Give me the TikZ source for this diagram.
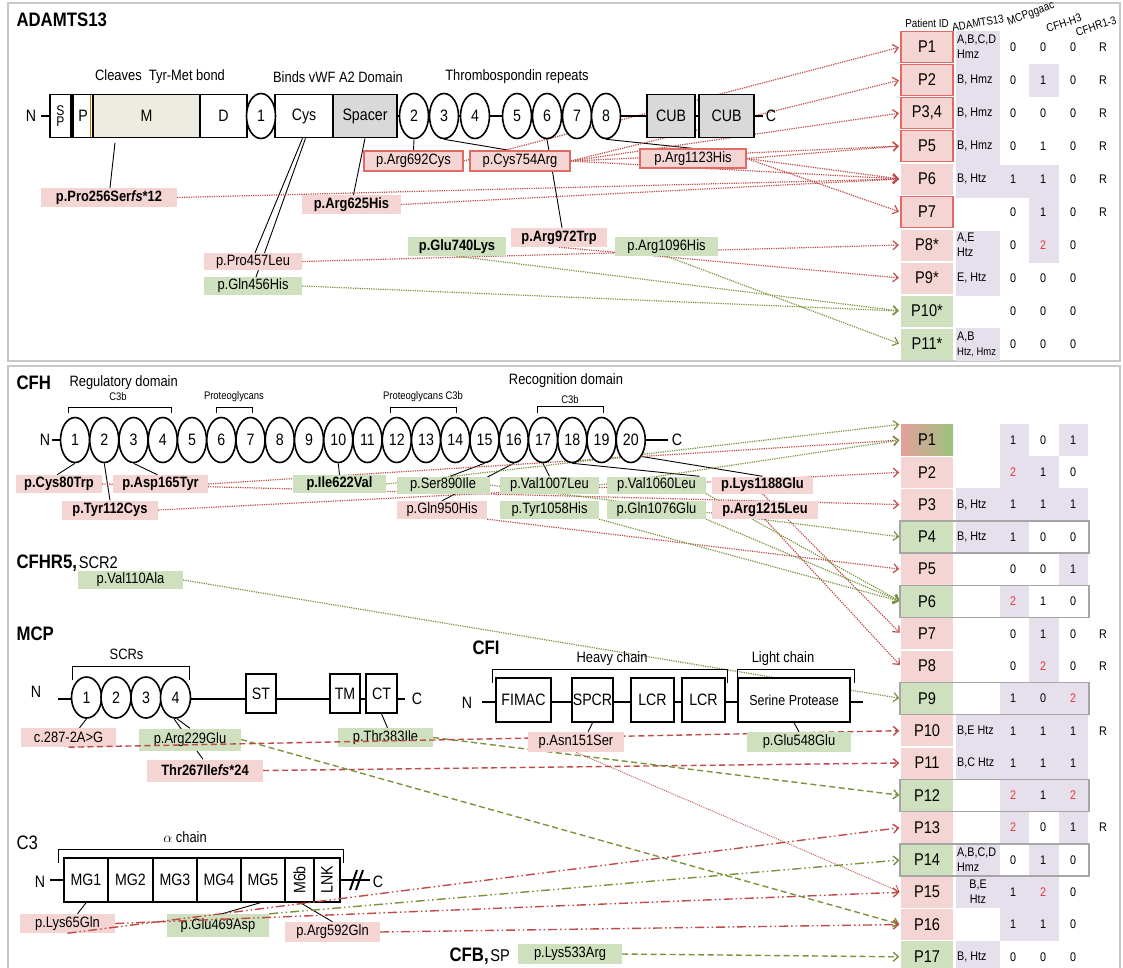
\documentclass[tikz,border=0pt]{standalone}
\usepackage{fontspec}
\setmainfont[FakeStretch=0.86]{Liberation Sans}
\usetikzlibrary{arrows.meta,shapes.geometric}
\pgfdeclarelayer{bg}
\pgfsetlayers{bg,main}
\definecolor{pinkfill}{HTML}{F4D5D3}
\definecolor{greenfill}{HTML}{CFE0BE}
\definecolor{lav}{HTML}{E6E0EC}
\definecolor{beige}{HTML}{EEECE0}
\definecolor{domgray}{HTML}{D9D9D9}
\definecolor{arrred}{HTML}{BE4B48}
\definecolor{arrgreen}{HTML}{77933C}
\definecolor{framered}{HTML}{E06A64}
\definecolor{panelgray}{HTML}{C8C8C8}
\definecolor{rowgray}{HTML}{A6A6A6}
\definecolor{numred}{HTML}{E8383A}
\definecolor{mixred}{HTML}{E3A09B}
\definecolor{mixgreen}{HTML}{9DC27E}
\newcommand{\titlefont}{\fontsize{19.5}{20}\selectfont\bfseries}
\newcommand{\subfont}{\fontsize{17}{18}\selectfont}
\newcommand{\domfont}{\fontsize{16.5}{17}\selectfont}
\newcommand{\labfont}{\fontsize{15}{16}\selectfont}
\newcommand{\smallfont}{\fontsize{11}{12}\selectfont}
\newcommand{\tabfont}{\fontsize{12.5}{15}\selectfont}
\newcommand{\headfont}{\fontsize{11.5}{12}\selectfont}
\newcommand{\patfont}{\fontsize{17}{18}\selectfont}
\newcommand{\two}{\textcolor{numred}{2}}
\newcommand{\fsit}{\textit{fs}}
\tikzset{
  >={Straight Barb[length=5pt,width=9pt]},
  panel/.style={panelgray, line width=2.5pt},
  backbone/.style={line width=2.6pt},
  dombox/.style={draw, fill=white, line width=1.6pt, minimum height=43pt, inner sep=0pt, font=\domfont},
  scrshape/.style={ellipse, draw, fill=white, line width=1.6pt, minimum width=29pt, minimum height=45pt, inner sep=0pt, font=\domfont},
  mutbox/.style={minimum height=19pt, inner sep=0pt, font=\labfont},
  pathog/.style={mutbox, fill=pinkfill},
  benign/.style={mutbox, fill=greenfill},
  outlined/.style={draw=framered, line width=1.2pt},
  tie/.style={line width=0.9pt},
  bracket/.style={line width=0.9pt},
  redpath/.style={->, arrred, line width=1.2pt, dash pattern=on 1.2pt off 1.1pt, shorten >=1.5pt},
  greenpath/.style={redpath, arrgreen},
  reddash/.style={->, arrred, line width=1.4pt, dash pattern=on 6pt off 3.5pt, shorten >=1.5pt},
  greendash/.style={reddash, arrgreen},
  reddots/.style={->, arrred, line width=1.4pt, dash pattern=on 9pt off 3pt on 1.5pt off 3pt on 1.5pt off 3pt, shorten >=1.5pt},
  greendots/.style={reddots, arrgreen},
  redthin/.style={->, arrred, line width=0.8pt, dash pattern=on 1pt off 1pt, shorten >=1.5pt},
  patient/.style={minimum width=52pt, minimum height=31pt, inner sep=0pt, font=\patfont},
  tabtext/.style={font=\tabfont, inner sep=0pt},
  headtext/.style={font=\headfont, inner sep=0pt},
  rowframe/.style={rowgray, line width=1.5pt},
}

\begin{document}
\begin{tikzpicture}[x=1pt,y=-1pt]
  \useasboundingbox (0,0) rectangle (1123,967);
  % panels
  \draw[panel] (8,3) rectangle (1120,361);
  \draw[panel] (8,975) -- (8,366) -- (1120,366) -- (1120,975);

  % patient table, upper panel
  \node[headtext] (hdpid) at (927,23) {Patient ID};
  \node[headtext, rotate=10] (hdadam) at (978,23) {ADAMTS13};
  \node[headtext, rotate=20] (hdmcp) at (1031,14) {MCPggaac};
  \node[headtext, rotate=18] (hdcfh) at (1064,23) {CFH-H3};
  \node[headtext, rotate=18] (hdcfhr) at (1096,26) {CFHR1-3};
  \fill[lav] (956,31) rectangle (1000,198);
  \fill[lav] (956,231) rectangle (1000,296);
  \fill[lav] (956,328) rectangle (1000,361);
  \fill[lav] (1029,64) rectangle (1059,97);
  \fill[lav] (1000,165) rectangle (1059,198);
  \fill[lav] (1029,198) rectangle (1059,263);
  \foreach \k/\lab/\fc/\bd in {1/P1/pinkfill/framered, 2/P2/pinkfill/framered, 3/{P3,4}/pinkfill/framered, 4/P5/pinkfill/framered, 5/P6/pinkfill/none, 6/P7/pinkfill/framered, 7/P8*/pinkfill/none, 8/P9*/pinkfill/none, 9/P10*/greenfill/none, 10/P11*/greenfill/none}
    \node[patient, fill=\fc, draw=\bd, line width=1.3pt] (t\k) at (927,{47+33*(\k-1)}) {\lab};
  \foreach \k/\adam/\mv/\hv/\cv/\rv in {1/{A,B,C,D\\Hmz}/0/0/0/R, 2/{B, Hmz}/0/1/0/R, 3/{B, Hmz}/0/0/0/R, 4/{B, Hmz}/0/1/0/R, 5/{B, Htz}/1/1/0/R, 6/{}/0/1/0/R, 7/{A,E\\Htz}/0/\two/0/{}, 8/{E, Htz}/0/0/0/{}, 9/{}/0/0/0/{}, 10/{A,B\\{\fontsize{11}{12}\selectfont Htz, Hmz}}/0/0/0/{}}{
    \node[tabtext, anchor=west, align=left] (ta\k) at (957,{47+33*(\k-1)}) {\adam};
    \node[tabtext] (tm\k) at (1013,{47+33*(\k-1)}) {\mv};
    \node[tabtext] (th\k) at (1043,{47+33*(\k-1)}) {\hv};
    \node[tabtext] (tc\k) at (1073,{47+33*(\k-1)}) {\cv};
    \node[tabtext] (tr\k) at (1103,{47+33*(\k-1)}) {\rv};
  }

  % patient table, lower panel
  \foreach \k/\xa/\xb in {1/1000/1029,1/1059/1088,2/1000/1059,3/956/1088,4/956/1029,5/1059/1088,6/1000/1029,7/1029/1059,8/1029/1059,9/1000/1088,10/956/1088,11/956/1088,12/1000/1088,13/1000/1029,13/1059/1088,14/956/1000,14/1029/1059,15/956/1059,16/1000/1059,17/956/1000}
    \fill[lav] (\xa,{440+32.3*(\k-1)-16.2}) rectangle (\xb,{440+32.3*(\k-1)+16.2});
  \node[patient, left color=mixred, right color=mixgreen] (p1) at (927,440) {P1};
  \foreach \k/\fc in {2/pinkfill,3/pinkfill,4/greenfill,5/pinkfill,6/greenfill,7/pinkfill,8/pinkfill,9/greenfill,10/pinkfill,11/pinkfill,12/greenfill,13/pinkfill,14/greenfill,15/pinkfill,16/pinkfill,17/greenfill}
    \node[patient, fill=\fc] (p\k) at (927,{440+32.3*(\k-1)}) {P\k};
  \foreach \k in {4,6,9,12,14}
    \draw[rowframe] (900,{440+32.3*(\k-1)-16}) rectangle (1089,{440+32.3*(\k-1)+16});
  \foreach \k/\adam/\mv/\hv/\cv/\rv in {1/{}/1/0/1/{}, 2/{}/\two/1/0/{}, 3/{B, Htz}/1/1/1/{}, 4/{B, Htz}/1/0/0/{}, 5/{}/0/0/1/{}, 6/{}/\two/1/0/{}, 7/{}/0/1/0/R, 8/{}/0/\two/0/R, 9/{}/1/0/\two/{}, 10/{B,E Htz}/1/1/1/R, 11/{B,C Htz}/1/1/1/{}, 12/{}/\two/1/\two/{}, 13/{}/\two/0/1/R, 14/{A,B,C,D\\Hmz}/0/1/0/{}, 15/{}/1/\two/0/{}, 16/{}/1/1/0/{}, 17/{B, Htz}/0/0/0/{}}{
    \node[tabtext, anchor=west, align=left] (pa\k) at (957,{440+32.3*(\k-1)}) {\adam};
    \node[tabtext] (pm\k) at (1013,{440+32.3*(\k-1)}) {\mv};
    \node[tabtext] (ph\k) at (1043,{440+32.3*(\k-1)}) {\hv};
    \node[tabtext] (pc\k) at (1073,{440+32.3*(\k-1)}) {\cv};
    \node[tabtext] (pr\k) at (1103,{440+32.3*(\k-1)}) {\rv};
  }
  \node[tabtext, align=center] (pa15b) at (978,892) {B,E\\Htz};

  % ADAMTS13 domains
  \node[anchor=west, font=\titlefont] (adtitle) at (13,20) {ADAMTS13};
  \draw[backbone] (41,116) -- (763,116);
  \node[font=\domfont] (adN) at (31,116) {N};
  \node[font=\domfont] (adC) at (771,116) {C};
  \node[dombox, minimum width=21pt, align=center, font=\fontsize{14}{11}\selectfont] (sigp) at (60.5,116) {S\\P};
  \node[dombox, minimum width=20pt] (prop) at (83,116) {P};
  \node[dombox, minimum width=107pt, fill=beige] (metal) at (146.5,116) {M};
  \node[dombox, minimum width=47pt] (disint) at (223.5,116) {D};
  \node[dombox, minimum width=58pt] (cys) at (304,116) {Cys};
  \node[dombox, minimum width=64pt, fill=domgray] (spacer) at (365,116) {Spacer};
  \foreach \i/\x in {1/261,2/414,3/444,4/475,5/517,6/547,7/577,8/606}
    \node[scrshape] (tsp\i) at (\x,116) {\i};
  \node[dombox, minimum width=48pt, fill=domgray] (cub1) at (671,116) {CUB};
  \node[dombox, minimum width=55pt, fill=domgray] (cub2) at (726.5,116) {CUB};
  \draw[orange!85!black, line width=1.4pt] ([xshift=-1.6pt,yshift=-1pt]metal.north west) -- ([xshift=-1.6pt,yshift=1pt]metal.south west);
  \node[font=\labfont] (cleave) at (160,77) {Cleaves\ \ Tyr-Met bond};
  \node[font=\labfont] (binds) at (338,77) {Binds vWF A2 Domain};
  \node[font=\labfont] (thromb) at (517,77) {Thrombospondin repeats};
  % ADAMTS13 mutations
  \node[pathog, outlined, minimum width=99pt, minimum height=20pt] (a692) at (413.5,161) {p.Arg692Cys};
  \node[pathog, outlined, minimum width=100pt, minimum height=20pt] (a754) at (520,161) {p.Cys754Arg};
  \node[pathog, outlined, minimum width=106pt] (a1123) at (693,158.5) {p.Arg1123His};
  \node[pathog, minimum width=136pt, font=\labfont\bfseries] (a256) at (109,197.5) {p.Pro256Ser\fsit*12};
  \node[pathog, minimum width=99pt, font=\labfont\bfseries] (a625) at (351.5,204.5) {p.Arg625His};
  \node[pathog, minimum width=96pt, font=\labfont\bfseries] (a972) at (559,237.5) {p.Arg972Trp};
  \node[benign, minimum width=98pt, font=\labfont\bfseries] (a740) at (457,246.5) {p.Glu740Lys};
  \node[benign, minimum width=103pt] (a1096) at (666.5,246.5) {p.Arg1096His};
  \node[pathog, minimum width=98pt, minimum height=17pt] (a457) at (253,261.5) {p.Pro457Leu};
  \node[benign, minimum width=98pt, minimum height=18pt] (a456) at (253,286) {p.Gln456His};
  \begin{pgfonlayer}{bg}
    \draw[tie] ([xshift=-31.5pt,yshift=-4.5pt]metal.south) -- ([xshift=1pt]a256.north);
    \draw[tie] (spacer.south) -- ([xshift=2pt]a625.north);
    \draw[tie] ([xshift=-1.5pt]cys.south) -- ([xshift=2pt]a457.north);
    \draw[tie] ([xshift=1.5pt]cys.south) -- ([xshift=3pt]a456.north);
    \draw[tie] (tsp2.south) -- (a692.north);
    \draw[tie] (tsp3.south) -- ([xshift=-10pt]a754.north);
    \draw[tie] (tsp6.south) -- ([xshift=3pt]a972.north);
    \draw[tie] (tsp8.south) -- (a1123.north);
    % to patients
    \draw[redpath] (a692.east) -- (t1.west);
    \foreach \t in {t2,t3,t4,t5} \draw[redpath] (a754.east) -- (\t.west);
    \foreach \t in {t4,t5,t6} \draw[redpath] (a1123.east) -- (\t.west);
    \draw[redpath] (a256.east) -- (t5.west);
    \draw[redpath] (a625.east) -- (t5.west);
    \draw[redpath] (a457.east) -- (t7.west);
    \draw[redpath] (a972.south) -- (t8.west);
    \draw[greenpath] (a740.south) -- (t9.west);
    \draw[greenpath] (a456.east) -- (t9.west);
    \draw[greenpath] (a1096.south) -- (t10.west);
  \end{pgfonlayer}

  % CFH
  \node[anchor=west, font=\titlefont] (cfhtitle) at (13,383) {CFH};
  \node[anchor=west, font=\labfont] (regdom) at (66,383) {Regulatory domain};
  \node[font=\labfont] (recdom) at (566,381) {Recognition domain};
  \node[font=\smallfont] (c3ba) at (118,397) {C3b};
  \node[font=\smallfont] (protg) at (234,397) {Proteoglycans};
  \node[font=\smallfont] (protgc) at (423,397) {Proteoglycans C3b};
  \node[font=\smallfont] (c3bb) at (570,400) {C3b};
  \draw[bracket] (68,413) -- (68,407) -- (171,407) -- (171,413);
  \draw[bracket] (216,413) -- (216,407) -- (252,407) -- (252,413);
  \draw[bracket] (390,413) -- (390,407) -- (456,407) -- (456,413);
  \draw[bracket] (537,413) -- (537,406) -- (603,406) -- (603,413);
  \draw[backbone] (52,440) -- (668,440);
  \node[font=\domfont] (hN) at (45,440) {N};
  \node[font=\domfont] (hC) at (677,440) {C};
  \foreach \i in {1,...,20}
    \node[scrshape] (scr\i) at ({75+29.25*(\i-1)},440) {\i};
  \node[pathog, minimum width=86pt, minimum height=18pt, font=\labfont\bfseries] (c80) at (59,484) {p.Cys80Trp};
  \node[pathog, minimum width=96pt, font=\labfont\bfseries] (c112) at (110,510) {p.Tyr112Cys};
  \node[pathog, minimum width=95pt, minimum height=18pt, font=\labfont\bfseries] (c165) at (160.5,484) {p.Asp165Tyr};
  \node[benign, minimum width=93pt, minimum height=18pt, font=\labfont\bfseries] (c622) at (339.5,484) {p.Ile622Val};
  \node[benign, minimum width=93pt, minimum height=17pt] (c890) at (443,485) {p.Ser890Ile};
  \node[pathog, minimum width=90pt, minimum height=18pt] (c950) at (442,510) {p.Gln950His};
  \node[benign, minimum width=99pt, minimum height=17pt] (c1007) at (549.5,485) {p.Val1007Leu};
  \node[benign, minimum width=99pt, minimum height=18pt] (c1058) at (549.5,510) {p.Tyr1058His};
  \node[benign, minimum width=99pt, minimum height=17pt] (c1060) at (656.5,485) {p.Val1060Leu};
  \node[benign, minimum width=99pt, minimum height=18pt] (c1076) at (656.5,510) {p.Gln1076Glu};
  \node[pathog, minimum width=101pt, minimum height=17pt, font=\labfont\bfseries] (c1188) at (762.5,485) {p.Lys1188Glu};
  \node[pathog, minimum width=106pt, minimum height=18pt, font=\labfont\bfseries] (c1215) at (765,510) {p.Arg1215Leu};
  % CFHR5
  \node[anchor=west] (cfhr5) at (13,563) {{\titlefont CFHR5,}\,{\subfont SCR2}};
  \node[benign, minimum width=105pt, minimum height=18pt] (v110) at (130.5,580) {p.Val110Ala};
  \begin{pgfonlayer}{bg}
    \draw[tie] (scr1.south) -- ([xshift=-2pt]c80.north);
    \draw[tie] (scr2.south) -- (c112.north);
    \draw[tie] (scr3.south) -- ([xshift=-3pt]c165.north);
    \draw[tie] (scr10.south) -- (c622.north);
    \draw[tie] (scr15.south) -- ([xshift=7pt]c890.north);
    \draw[tie] (scr16.south) -- (c950.north);
    \draw[tie] (scr17.south) -- (c1007.north);
    \draw[tie] (scr18.south) -- ([xshift=43pt]c1060.north);
    \draw[tie] (scr20.south east) -- (c1188.north);
    % to patients
    \draw[redpath] (c165.east) -- (p1.west);
    \draw[redpath] (c112.east) -- (p2.west);
    \draw[redpath] (c80.east) -- (p3.west);
    \draw[redpath] (c950.south east) -- (p5.west);
    \draw[redpath] (c1188.south) -- (p7.west);
    \draw[redpath] (c1215.south) -- (p8.west);
    \draw[greenpath] (c622.east) -- (p1.north west);
    \draw[greenpath] (c1007.east) -- (p1.west);
    \draw[greenpath] (c890.east) -- (p4.west);
    \foreach \m in {c1058,c1060,c1076} \draw[greenpath] (\m.south east) -- (p6.west);
    \draw[greenpath] (v110.east) -- (p9.west);
  \end{pgfonlayer}

  % MCP
  \node[anchor=west, font=\titlefont] (mcptitle) at (13,634) {MCP};
  \node[font=\labfont] (scrs) at (126.5,654) {SCRs};
  \draw[bracket] (72,680) -- (72,666) -- (189,666) -- (189,680);
  \draw[backbone] (58,699) -- (405,699);
  \node[font=\domfont] (mN) at (36,692) {N};
  \node[font=\domfont] (mC) at (417,699) {C};
  \foreach \i/\x in {1/86.5,2/116,3/146,4/175.5}
    \node[scrshape, minimum width=30pt, minimum height=41pt] (mscr\i) at (\x,697.5) {\i};
  \node[dombox, minimum width=30pt, minimum height=39pt] (mst) at (261,693.5) {ST};
  \node[dombox, minimum width=30pt, minimum height=39pt] (mtm) at (345,693.5) {TM};
  \node[dombox, minimum width=31pt, minimum height=39pt] (mct) at (381.5,693.5) {CT};
  \node[pathog, minimum width=95pt] (m287) at (68.5,737.5) {c.287-2A>G};
  \node[benign, minimum width=102pt, minimum height=22pt] (m229) at (190,739.5) {p.Arg229Glu};
  \node[pathog, minimum width=116pt, minimum height=22pt, font=\labfont\bfseries] (m267) at (205,770.5) {Thr267Ile\fsit*24};
  \node[benign, minimum width=95pt] (m383) at (385.5,737.5) {p.Thr383Ile};
  \begin{pgfonlayer}{bg}
    \draw[tie] (mscr1.south) -- ([xshift=11pt]m287.north);
    \draw[tie] ([xshift=1.5pt]mscr4.south) -- (m229.north);
    \draw[tie] ([xshift=-1.5pt]mscr4.south) -- ([xshift=-2pt]m267.north);
    \draw[tie] (mct.south) -- ([xshift=2pt]m383.north);
    \draw[reddash] (m267.east) -- (p11.west);
    \draw[greendash] (m229.east) -- (p16.west);
    \draw[greendash] (m383.east) -- (p12.west);
  \end{pgfonlayer}
  \draw[reddash] (m287.south) -- (p10.west);

  % CFI
  \node[anchor=west, font=\titlefont] (cfititle) at (469,648) {CFI};
  \node[font=\labfont] (heavy) at (612,659) {Heavy chain};
  \node[font=\labfont] (light) at (783,659) {Light chain};
  \draw[bracket] (492,683) -- (492,669) -- (727,669) -- (727,683);
  \draw[bracket] (737,683) -- (737,669) -- (854,669) -- (854,683);
  \draw[backbone] (482,702) -- (863,702);
  \node[font=\domfont] (fN) at (467,703) {N};
  \node[dombox, minimum width=55pt, minimum height=44pt] (fimac) at (523.5,700) {FIMAC};
  \node[dombox, minimum width=41pt, minimum height=44pt] (spcr) at (592.5,700) {SPCR};
  \node[dombox, minimum width=43pt, minimum height=44pt] (lcr1) at (652.5,700) {LCR};
  \node[dombox, minimum width=43pt, minimum height=44pt] (lcr2) at (703.5,700) {LCR};
  \node[dombox, minimum width=112pt, minimum height=44pt, font=\fontsize{14.5}{15}\selectfont] (serprot) at (794,700) {Serine Protease};
  \node[pathog, minimum width=96pt, minimum height=20pt] (f151) at (576,742) {p.Asn151Ser};
  \node[benign, minimum width=104pt, minimum height=20pt] (f548) at (799,742) {p.Glu548Glu};
  \begin{pgfonlayer}{bg}
    \draw[tie] (spcr.south) -- ([xshift=12pt]f151.north);
    \draw[tie] (serprot.south) -- (f548.north);
    \draw[redthin] (f151.south) -- (p15.west);
  \end{pgfonlayer}

  % C3
  \node[anchor=west, font=\fontsize{19.5}{20}\selectfont] (c3title) at (13,843) {C3};
  \node[font=\labfont] (alphach) at (185,837) {$\alpha$ chain};
  \draw[bracket] (58,863) -- (58,849) -- (343,849) -- (343,863);
  \draw[backbone] (50,880) -- (370,880);
  \node[font=\domfont] (c3N) at (40,882) {N};
  \node[font=\domfont] (c3C) at (378,882) {C};
  \foreach \i/\x in {1/86,2/130.5,3/175,4/219,5/263}
    \node[dombox, minimum width=44pt, minimum height=44pt] (mg\i) at (\x,880) {MG\i};
  \node[dombox, minimum width=29pt, minimum height=44pt] (mg6b) at (299.5,880) {\rotatebox{90}{M6b}};
  \node[dombox, minimum width=26pt, minimum height=44pt] (lnk) at (327,880) {\rotatebox{90}{LNK}};
  \draw[line width=2pt] (350,890) -- (357,870) (356,890) -- (363,870);
  \node[pathog, minimum width=95pt] (k65) at (67.5,923.5) {p.Lys65Gln};
  \node[benign, minimum width=102pt, minimum height=23pt] (k469) at (218,925.5) {p.Glu469Asp};
  \node[pathog, minimum width=95pt, minimum height=20pt] (k592) at (332.5,932) {p.Arg592Gln};
  \begin{pgfonlayer}{bg}
    \draw[tie] (mg1.south) -- ([xshift=10pt]k65.north);
    \draw[tie] ([xshift=-3pt]mg5.south) -- ([xshift=4pt]k469.north);
    \draw[tie] ([xshift=1pt]mg6b.south) -- (k592.north);
  \end{pgfonlayer}
  \draw[reddots] (k65.south) -- (p13.west);
  \draw[reddots] (k65.east) -- (p15.west);
  \draw[greendots] (k469.north east) -- (p14.west);
  \draw[reddots] (k592.east) -- (p16.west);

  % CFB
  \node[anchor=west] (cfbtitle) at (446,956) {{\titlefont CFB,}\,{\subfont SP}};
  \node[benign, minimum width=104pt, minimum height=20pt] (b533) at (570,954) {p.Lys533Arg};
  \begin{pgfonlayer}{bg}
    \draw[greendash] (b533.east) -- (p17.west);
  \end{pgfonlayer}
\end{tikzpicture}
\end{document}
